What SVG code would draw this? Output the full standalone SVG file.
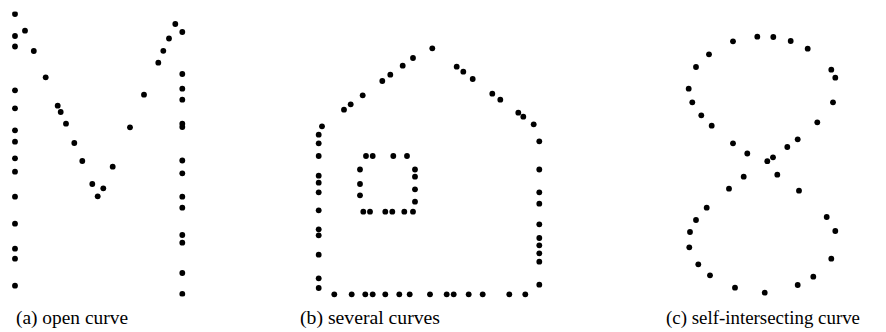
<svg xmlns="http://www.w3.org/2000/svg" width="886" height="332" viewBox="0 0 886 332">
<style>
circle{fill:#000}
text{font-family:"Liberation Serif","Times New Roman",serif;font-size:18px;fill:#000}
</style>
<defs>
<clipPath id="clipA"><rect x="0" y="11.5" width="200" height="285"/></clipPath>
</defs>
<rect width="886" height="332" fill="#fff"/>
<g id="panel-a" clip-path="url(#clipA)">
<g id="a-left">
<circle cx="15" cy="14" r="2.9"/><circle cx="15" cy="36" r="2.9"/><circle cx="15" cy="46.5" r="2.9"/><circle cx="15" cy="90.3" r="2.9"/><circle cx="15" cy="108.3" r="2.9"/><circle cx="15" cy="130.3" r="2.9"/><circle cx="15" cy="141.7" r="2.9"/><circle cx="15" cy="158.3" r="2.9"/><circle cx="15" cy="171.7" r="2.9"/><circle cx="15" cy="196.7" r="2.9"/><circle cx="15" cy="223.7" r="2.9"/><circle cx="15" cy="248.7" r="2.9"/><circle cx="15" cy="258.7" r="2.9"/><circle cx="15" cy="285.7" r="2.9"/>
</g>
<g id="a-middle">
<circle cx="25" cy="30.7" r="2.9"/><circle cx="33.8" cy="51" r="2.9"/><circle cx="45.7" cy="77.3" r="2.9"/><circle cx="57.7" cy="105.7" r="2.9"/><circle cx="60.7" cy="112" r="2.9"/><circle cx="66" cy="123.7" r="2.9"/><circle cx="74.3" cy="143" r="2.9"/><circle cx="82.3" cy="161" r="2.9"/><circle cx="92.3" cy="184" r="2.9"/><circle cx="97.7" cy="196.3" r="2.9"/><circle cx="103.3" cy="188.3" r="2.9"/><circle cx="112.7" cy="166.7" r="2.9"/><circle cx="130" cy="127.3" r="2.9"/><circle cx="144" cy="94.7" r="2.9"/><circle cx="158.3" cy="62.7" r="2.9"/><circle cx="163.3" cy="50.8" r="2.9"/><circle cx="169" cy="38.5" r="2.9"/><circle cx="175.3" cy="24" r="2.9"/>
</g>
<g id="a-right">
<circle cx="182.3" cy="32" r="2.9"/><circle cx="182.3" cy="74" r="2.9"/><circle cx="182.3" cy="88.7" r="2.9"/><circle cx="182.3" cy="99.7" r="2.9"/><circle cx="182.3" cy="123.7" r="2.9"/><circle cx="182.3" cy="127" r="2.9"/><circle cx="182.3" cy="160.5" r="2.9"/><circle cx="182.3" cy="173.3" r="2.9"/><circle cx="182.3" cy="196.7" r="2.9"/><circle cx="182.3" cy="207.7" r="2.9"/><circle cx="182.3" cy="235" r="2.9"/><circle cx="182.3" cy="242.7" r="2.9"/><circle cx="182.3" cy="273" r="2.9"/><circle cx="182.3" cy="294" r="2.9"/>
</g>
</g>
<g id="panel-b">
<g id="b-roof">
<circle cx="322" cy="126.3" r="2.9"/><circle cx="344" cy="109.7" r="2.9"/><circle cx="350.7" cy="104.3" r="2.9"/><circle cx="362.7" cy="95.3" r="2.9"/><circle cx="382.3" cy="81" r="2.9"/><circle cx="390.3" cy="74.7" r="2.9"/><circle cx="402.7" cy="65.7" r="2.9"/><circle cx="413" cy="58" r="2.9"/><circle cx="432.3" cy="48.3" r="2.9"/><circle cx="456.7" cy="66.7" r="2.9"/><circle cx="463.3" cy="71.7" r="2.9"/><circle cx="472.7" cy="79" r="2.9"/><circle cx="492.3" cy="93.7" r="2.9"/><circle cx="500.3" cy="99.7" r="2.9"/><circle cx="518.3" cy="112.7" r="2.9"/><circle cx="523.3" cy="116.7" r="2.9"/><circle cx="533.7" cy="124.3" r="2.9"/>
</g>
<g id="b-left-wall">
<circle cx="318.7" cy="134.7" r="2.9"/><circle cx="318.7" cy="143.3" r="2.9"/><circle cx="318.7" cy="156" r="2.9"/><circle cx="318.7" cy="175.7" r="2.9"/><circle cx="318.7" cy="182.7" r="2.9"/><circle cx="318.7" cy="192.3" r="2.9"/><circle cx="318.7" cy="210.3" r="2.9"/><circle cx="318.7" cy="229.3" r="2.9"/><circle cx="318.7" cy="235.3" r="2.9"/><circle cx="318.7" cy="254.7" r="2.9"/><circle cx="318.7" cy="278.3" r="2.9"/><circle cx="318.7" cy="288" r="2.9"/>
</g>
<g id="b-floor">
<circle cx="334.3" cy="294.3" r="2.9"/><circle cx="351.7" cy="294.3" r="2.9"/><circle cx="365.3" cy="294.3" r="2.9"/><circle cx="372.7" cy="294.3" r="2.9"/><circle cx="385.3" cy="294.3" r="2.9"/><circle cx="399.3" cy="294.3" r="2.9"/><circle cx="409.7" cy="294.3" r="2.9"/><circle cx="430" cy="294.3" r="2.9"/><circle cx="446.7" cy="294.3" r="2.9"/><circle cx="453.7" cy="294.3" r="2.9"/><circle cx="468.7" cy="294.3" r="2.9"/><circle cx="482.7" cy="294.3" r="2.9"/><circle cx="509.3" cy="294.3" r="2.9"/><circle cx="525.3" cy="294.3" r="2.9"/>
</g>
<g id="b-right-wall">
<circle cx="539.3" cy="141.3" r="2.9"/><circle cx="539.3" cy="169.5" r="2.9"/><circle cx="539.3" cy="192.3" r="2.9"/><circle cx="539.3" cy="203.7" r="2.9"/><circle cx="539.3" cy="224.3" r="2.9"/><circle cx="539.3" cy="238" r="2.9"/><circle cx="539.3" cy="245.3" r="2.9"/><circle cx="539.3" cy="253.3" r="2.9"/><circle cx="539.3" cy="261.7" r="2.9"/><circle cx="539.3" cy="284.7" r="2.9"/>
</g>
<g id="b-window">
<circle cx="366" cy="156" r="2.9"/><circle cx="372.7" cy="156" r="2.9"/><circle cx="393.3" cy="156" r="2.9"/><circle cx="407" cy="156" r="2.9"/><circle cx="360" cy="169.5" r="2.9"/><circle cx="360" cy="184" r="2.9"/><circle cx="360" cy="195.3" r="2.9"/><circle cx="363.3" cy="211.7" r="2.9"/><circle cx="370" cy="211.7" r="2.9"/><circle cx="385.3" cy="211.7" r="2.9"/><circle cx="392.3" cy="211.7" r="2.9"/><circle cx="404.3" cy="211.7" r="2.9"/><circle cx="413" cy="211.7" r="2.9"/><circle cx="415" cy="169.5" r="2.9"/><circle cx="415" cy="176.7" r="2.9"/><circle cx="415" cy="189.3" r="2.9"/><circle cx="415" cy="201.7" r="2.9"/>
</g>
</g>
<g id="panel-c">
<circle cx="757.3" cy="36.7" r="2.9"/><circle cx="773.3" cy="37" r="2.9"/><circle cx="733" cy="41.3" r="2.9"/><circle cx="790.7" cy="41" r="2.9"/><circle cx="807.7" cy="48.7" r="2.9"/><circle cx="709" cy="54.3" r="2.9"/><circle cx="696" cy="67" r="2.9"/><circle cx="831.3" cy="69.7" r="2.9"/><circle cx="835.3" cy="77.7" r="2.9"/><circle cx="688.7" cy="88.7" r="2.9"/><circle cx="692.3" cy="102.3" r="2.9"/><circle cx="833" cy="102.3" r="2.9"/><circle cx="701.3" cy="115.3" r="2.9"/><circle cx="817.3" cy="122.3" r="2.9"/><circle cx="711.7" cy="125.7" r="2.9"/><circle cx="797.7" cy="139.3" r="2.9"/><circle cx="733" cy="143.3" r="2.9"/><circle cx="787.3" cy="147" r="2.9"/><circle cx="747.3" cy="153.5" r="2.9"/><circle cx="773" cy="157.3" r="2.9"/><circle cx="767.3" cy="161.2" r="2.9"/><circle cx="777.3" cy="174.7" r="2.9"/><circle cx="743.7" cy="176.7" r="2.9"/><circle cx="729" cy="188.7" r="2.9"/><circle cx="799" cy="190.7" r="2.9"/><circle cx="706.7" cy="207.7" r="2.9"/><circle cx="826.7" cy="217" r="2.9"/><circle cx="696" cy="220" r="2.9"/><circle cx="835.3" cy="231" r="2.9"/><circle cx="690" cy="232" r="2.9"/><circle cx="689.3" cy="247.3" r="2.9"/><circle cx="831.3" cy="258.7" r="2.9"/><circle cx="698.3" cy="264.3" r="2.9"/><circle cx="710" cy="275.3" r="2.9"/><circle cx="813.3" cy="276.7" r="2.9"/><circle cx="797.7" cy="285" r="2.9"/><circle cx="735" cy="287.7" r="2.9"/><circle cx="764.7" cy="292.7" r="2.9"/>
</g>
<g id="captions">
<text x="16" y="324" textLength="112" lengthAdjust="spacingAndGlyphs">(a) open curve</text>
<text x="300" y="324" textLength="140" lengthAdjust="spacingAndGlyphs">(b) several curves</text>
<text x="666" y="324" textLength="194" lengthAdjust="spacingAndGlyphs">(c) self-intersecting curve</text>
</g>
</svg>
